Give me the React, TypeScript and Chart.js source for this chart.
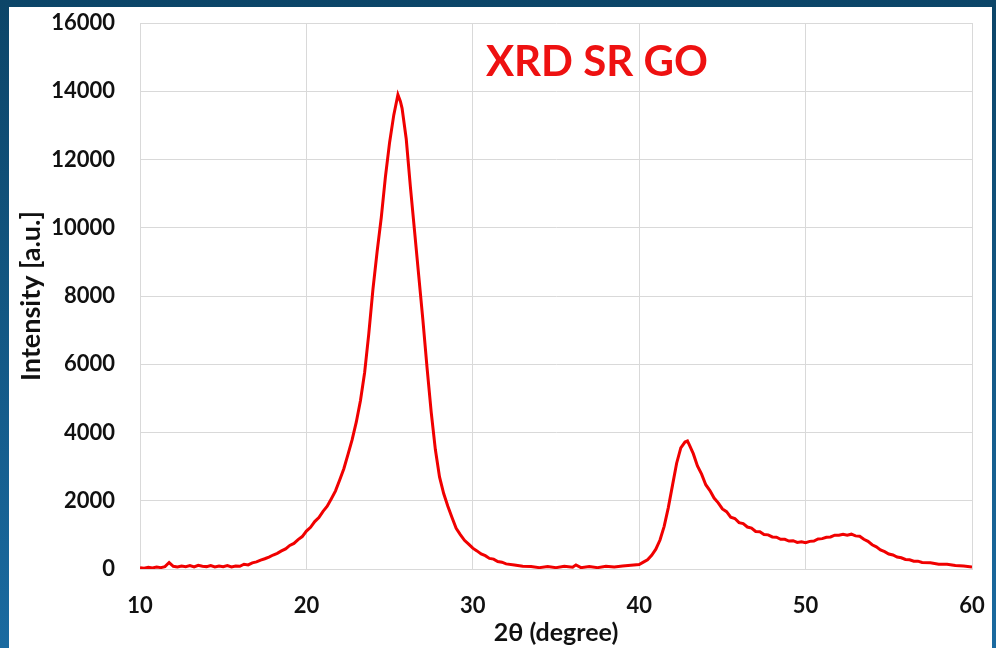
import React, { useEffect, useRef } from "react";
import { Chart, registerables } from "chart.js";

Chart.register(...registerables);

const chartTitle = "XRD SR GO";
const xAxisTitle = "2θ (degree)";
const yAxisTitle = "Intensity [a.u.]";
const xTicks = [10, 20, 30, 40, 50, 60];
const yTicks = [0, 2000, 4000, 6000, 8000, 10000, 12000, 14000, 16000];

const twoTheta = [
  10.0, 10.25, 10.5, 10.75, 11.0, 11.25, 11.5, 11.75, 12.0, 12.25, 12.5, 12.75,
  13.0, 13.25, 13.5, 13.75, 14.0, 14.25, 14.5, 14.75, 15.0, 15.25, 15.5, 15.75,
  16.0, 16.25, 16.5, 16.75, 17.0, 17.25, 17.5, 17.75, 18.0, 18.25, 18.5, 18.75,
  19.0, 19.25, 19.5, 19.75, 20.0, 20.25, 20.5, 20.75, 21.0, 21.25, 21.5, 21.75,
  22.0, 22.25, 22.5, 22.75, 23.0, 23.25, 23.5, 23.75, 24.0, 24.25, 24.5, 24.75,
  25.0, 25.25, 25.5, 25.65, 25.75, 26.0, 26.25, 26.5, 26.75, 27.0, 27.25, 27.5,
  27.75, 28.0, 28.25, 28.5, 28.75, 29.0, 29.25, 29.5, 29.75, 30.0, 30.25, 30.5,
  30.75, 31.0, 31.25, 31.5, 31.75, 32.0, 32.5, 33.0, 33.5, 34.0, 34.5, 35.0,
  35.5, 36.0, 36.2, 36.5, 37.0, 37.5, 38.0, 38.5, 39.0, 39.5, 40.0, 40.25,
  40.5, 40.75, 41.0, 41.25, 41.5, 41.75, 42.0, 42.25, 42.5, 42.75, 42.9, 43.0,
  43.25, 43.5, 43.75, 44.0, 44.25, 44.5, 44.75, 45.0, 45.25, 45.5, 45.75, 46.0,
  46.25, 46.5, 46.75, 47.0, 47.25, 47.5, 47.75, 48.0, 48.25, 48.5, 48.75, 49.0,
  49.25, 49.5, 49.75, 50.0, 50.25, 50.5, 50.75, 51.0, 51.25, 51.5, 51.75, 52.0,
  52.25, 52.5, 52.75, 53.0, 53.25, 53.5, 53.75, 54.0, 54.25, 54.5, 54.75, 55.0,
  55.25, 55.5, 55.75, 56.0, 56.25, 56.5, 56.75, 57.0, 57.5, 58.0, 58.5, 59.0,
  59.5, 60.0,
];

const intensity = [
  40, 20, 50, 30, 60, 40, 70, 190, 80, 60, 90, 70,
  100, 60, 110, 80, 70, 100, 60, 90, 70, 100, 60, 90,
  80, 140, 120, 180, 210, 260, 300, 350, 410, 460, 530, 590,
  690, 750, 860, 950, 1110, 1220, 1390, 1510, 1690, 1840, 2060, 2290,
  2610, 2940, 3360, 3790, 4310, 4940, 5760, 6900, 8200, 9300, 10300, 11500,
  12500, 13300, 13900, 13700, 13500, 12600, 11200, 9900, 8600, 7300, 5900, 4600,
  3500, 2700, 2210, 1840, 1510, 1190, 1010, 840, 730, 610, 530, 440,
  390, 310, 290, 220, 200, 150, 120, 80, 70, 40, 70, 40,
  80, 50, 120, 40, 70, 40, 80, 60, 90, 110, 130, 200,
  270, 400, 580, 850, 1250, 1800, 2450, 3100, 3550, 3720, 3750, 3650,
  3380, 3020, 2780, 2470, 2300, 2080, 1940, 1760, 1680, 1520, 1480, 1360,
  1330, 1230, 1200, 1100, 1090, 1010, 1000, 940, 930, 870, 870, 820,
  830, 780, 800, 770, 810, 820, 880, 890, 930, 940, 990, 990,
  1020, 990, 1020, 970, 960, 870, 810, 710, 650, 560, 510, 440,
  410, 350, 330, 280, 270, 230, 230, 190, 180, 140, 140, 100,
  90, 60,
];

const FONT = "Lato, 'Open Sans', sans-serif";

const backgroundPlugin = {
  id: "slideBackground",
  beforeDraw(chart: any) {
    const { ctx, width, height } = chart;
    ctx.save();
    const g = ctx.createLinearGradient(0, 0, 0, height);
    g.addColorStop(0, "#0c4568");
    g.addColorStop(1, "#1a6aa0");
    ctx.fillStyle = g;
    ctx.fillRect(0, 0, width, height);
    ctx.fillStyle = "#ffffff";
    ctx.fillRect(9, 7, 983, height - 7);
    ctx.restore();
  },
};

const titlePlugin = {
  id: "innerTitle",
  afterDraw(chart: any) {
    const { ctx } = chart;
    const xs = chart.scales.x;
    const ys = chart.scales.y;
    ctx.save();
    ctx.font = `bold 42px ${FONT}`;
    ctx.fillStyle = "#ee1111";
    ctx.textAlign = "center";
    ctx.textBaseline = "middle";
    ctx.fillText(chartTitle, xs.getPixelForValue(37.46), ys.getPixelForValue(14850));
    ctx.restore();
  },
};

export default function App() {
  const ref = useRef<HTMLCanvasElement | null>(null);

  useEffect(() => {
    if (!ref.current) return;
    const points = twoTheta.map((x, i) => ({ x, y: intensity[i] }));
    const chart = new Chart(ref.current, {
      type: "line",
      data: {
        datasets: [
          {
            data: points,
            borderColor: "#f00000",
            borderWidth: 3,
            pointRadius: 0,
            tension: 0,
            fill: false,
          },
        ],
      },
      options: {
        responsive: false,
        animation: false,
        devicePixelRatio: 1,
        layout: { padding: { left: 0, top: 23, right: 24, bottom: 0 } },
        plugins: { legend: { display: false }, tooltip: { enabled: false } },
        scales: {
          x: {
            type: "linear",
            min: 10,
            max: 60,
            afterBuildTicks: (s: any) => {
              s.ticks = xTicks.map((v) => ({ value: v }));
            },
            afterFit: (s: any) => {
              s.height = 79;
            },
            grid: {
              color: "#d9d9d9",
              lineWidth: 1,
              drawTicks: true,
              tickLength: 24,
              tickColor: "rgba(0,0,0,0)",
            },
            border: { color: "#d9d9d9" },
            ticks: {
              padding: 0,
              color: "#111111",
              font: { family: FONT, size: 22, weight: "bold" },
              maxRotation: 0,
              callback: (v: any) => String(v),
            },
            title: {
              display: true,
              text: xAxisTitle,
              color: "#111111",
              font: { family: FONT, size: 25, weight: "bold" },
              padding: { top: 0, bottom: 0 },
            },
          },
          y: {
            type: "linear",
            min: 0,
            max: 16000,
            afterBuildTicks: (s: any) => {
              s.ticks = yTicks.map((v) => ({ value: v }));
            },
            afterFit: (s: any) => {
              s.width = 140;
            },
            grid: {
              color: "#d9d9d9",
              lineWidth: 1,
              drawTicks: true,
              tickLength: 25,
              tickColor: "rgba(0,0,0,0)",
            },
            border: { color: "#d9d9d9" },
            ticks: {
              padding: 0,
              color: "#111111",
              font: { family: FONT, size: 22, weight: "bold" },
              callback: (v: any) => String(v),
            },
            title: {
              display: true,
              text: yAxisTitle,
              color: "#111111",
              font: { family: FONT, size: 27, weight: "bold" },
              padding: { top: 15, bottom: 0 },
            },
          },
        },
      },
      plugins: [backgroundPlugin, titlePlugin],
    });
    return () => chart.destroy();
  }, []);

  return (
    <div style={{ position: "fixed", left: 0, top: 0, width: 996, height: 648 }}>
      <canvas ref={ref} width={996} height={648} style={{ display: "block", width: 996, height: 648 }} />
    </div>
  );
}
